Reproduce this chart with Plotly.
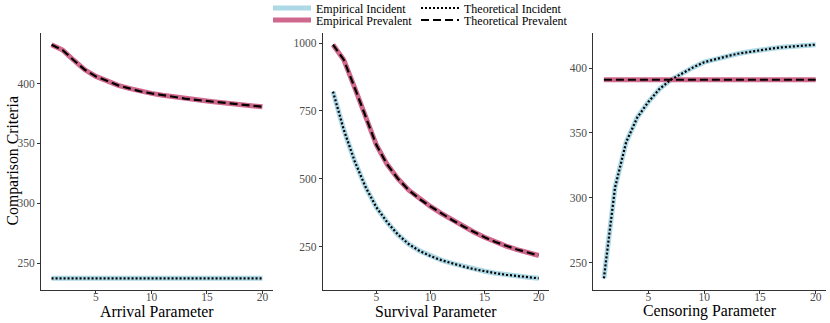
import plotly.graph_objects as go

# Data
params = list(range(1, 21))

# Arrival parameter panel
arrival_incident = [237.3] * 20
arrival_prevalent = [432.5, 428.0, 419.5, 411.5, 406.0, 402.0, 398.5, 396.0, 393.5, 391.8,
                     390.2, 388.8, 387.5, 386.4, 385.4, 384.4, 383.4, 382.4, 381.5, 380.6]

# Survival parameter panel
survival_incident = [821, 680, 565, 470, 395, 340, 294, 259, 234, 215,
                     200, 188, 177, 167, 159, 152, 146, 141, 137, 133]
survival_prevalent = [994, 938, 836, 733, 625, 553, 500, 458, 425, 398,
                      372, 348, 325, 304, 284, 267, 252, 239, 228, 217]

# Censoring parameter panel
censoring_incident = [238, 308, 343, 362, 374, 384, 391, 396, 400.5, 404.5,
                      407, 409, 411, 412.5, 414, 415, 416, 416.8, 417.4, 418]
censoring_prevalent = [391] * 20

panels = [
    ("Arrival Parameter", arrival_incident, arrival_prevalent, [250, 300, 350, 400]),
    ("Survival Parameter", survival_incident, survival_prevalent, [250, 500, 750, 1000]),
    ("Censoring Parameter", censoring_incident, censoring_prevalent, [250, 300, 350, 400]),
]

# Colors / fonts
color_incident = "#ADD8E6"
color_prevalent = "#D0688D"
color_axis = "#333333"
color_ticks = "#4D4D4D"
font_family = "Liberation Serif"

W, H = 830, 323
top, bottom = 33, 33
plot_h = H - top - bottom

# pixel layout of the three panels
x_domains = [[41 / W, 273 / W], [322.7 / W, 549 / W], [593.3 / W, 826.3 / W]]

# legend slots: (legend id, left px, row centre px)
legend_slots = {
    "Empirical Incident": ("legend", 268, 8),
    "Empirical Prevalent": ("legend2", 268, 20),
    "Theoretical Incident": ("legend3", 416, 8),
    "Theoretical Prevalent": ("legend4", 416, 20),
}

fig = go.Figure()

for i, (title, incident, prevalent, yticks) in enumerate(panels):
    n = "" if i == 0 else str(i + 1)
    xa, ya = "x" + n, "y" + n
    first = i == 0

    series = [
        ("Empirical Incident", incident, dict(color=color_incident, width=5)),
        ("Empirical Prevalent", prevalent, dict(color=color_prevalent, width=5)),
        ("Theoretical Incident", incident, dict(color="black", width=2.2, dash="2px,2px")),
        ("Theoretical Prevalent", prevalent, dict(color="black", width=2.2, dash="8px,4px")),
    ]
    for name, vals, line in series:
        fig.add_trace(go.Scatter(x=params, y=vals, mode="lines", name=name, line=line,
                                 xaxis=xa, yaxis=ya, legend=legend_slots[name][0],
                                 showlegend=first))

    lo, hi = min(incident + prevalent), max(incident + prevalent)
    pad = (hi - lo) * 0.05

    axis_common = dict(
        showgrid=False, zeroline=False, showline=True, linecolor=color_axis, linewidth=1,
        ticks="outside", ticklen=3, tickcolor=color_axis, tickwidth=1,
        tickfont=dict(family=font_family, size=11.5, color=color_ticks),
        automargin=False,
    )
    fig.layout["xaxis" + n] = dict(
        axis_common, domain=x_domains[i], anchor=ya, range=[0.05, 20.95],
        tickvals=[5, 10, 15, 20], ticklabelstandoff=-7,
    )
    fig.layout["yaxis" + n] = dict(
        axis_common, domain=[0, 1], anchor=xa, range=[lo - pad, hi + pad],
        tickvals=yticks,
    )

    # x-axis title
    fig.add_annotation(text=title, xref="paper", yref="paper",
                       x=sum(x_domains[i]) / 2, y=-(21 / plot_h),
                       xanchor="center", yanchor="middle", showarrow=False,
                       font=dict(family=font_family, size=15.8, color="black"))

# y-axis title
fig.add_annotation(text="Comparison Criteria", xref="paper", yref="paper",
                   x=12 / W, y=0.5, xanchor="center", yanchor="middle", textangle=-90,
                   showarrow=False, font=dict(family=font_family, size=15.8, color="black"))

legend_common = dict(
    orientation="v", yanchor="middle", xanchor="left",
    font=dict(family=font_family, size=12, color="black"),
    bgcolor="rgba(0,0,0,0)", itemwidth=38,
)
legends = {}
for name, (lid, left, cy) in legend_slots.items():
    legends[lid] = dict(legend_common, x=left / W, y=1 + (top - cy) / plot_h)

fig.update_layout(
    width=W, height=H,
    margin=dict(l=0, r=0, t=top, b=bottom, autoexpand=False),
    paper_bgcolor="white", plot_bgcolor="white",
    hovermode=False,
    font=dict(family=font_family),
    **legends,
)

# the page body has a default 8px margin; drop it so the figure fills the window
fig.write_html("out.html", config={"displayModeBar": False},
               post_script="document.body.style.margin='0px';")
